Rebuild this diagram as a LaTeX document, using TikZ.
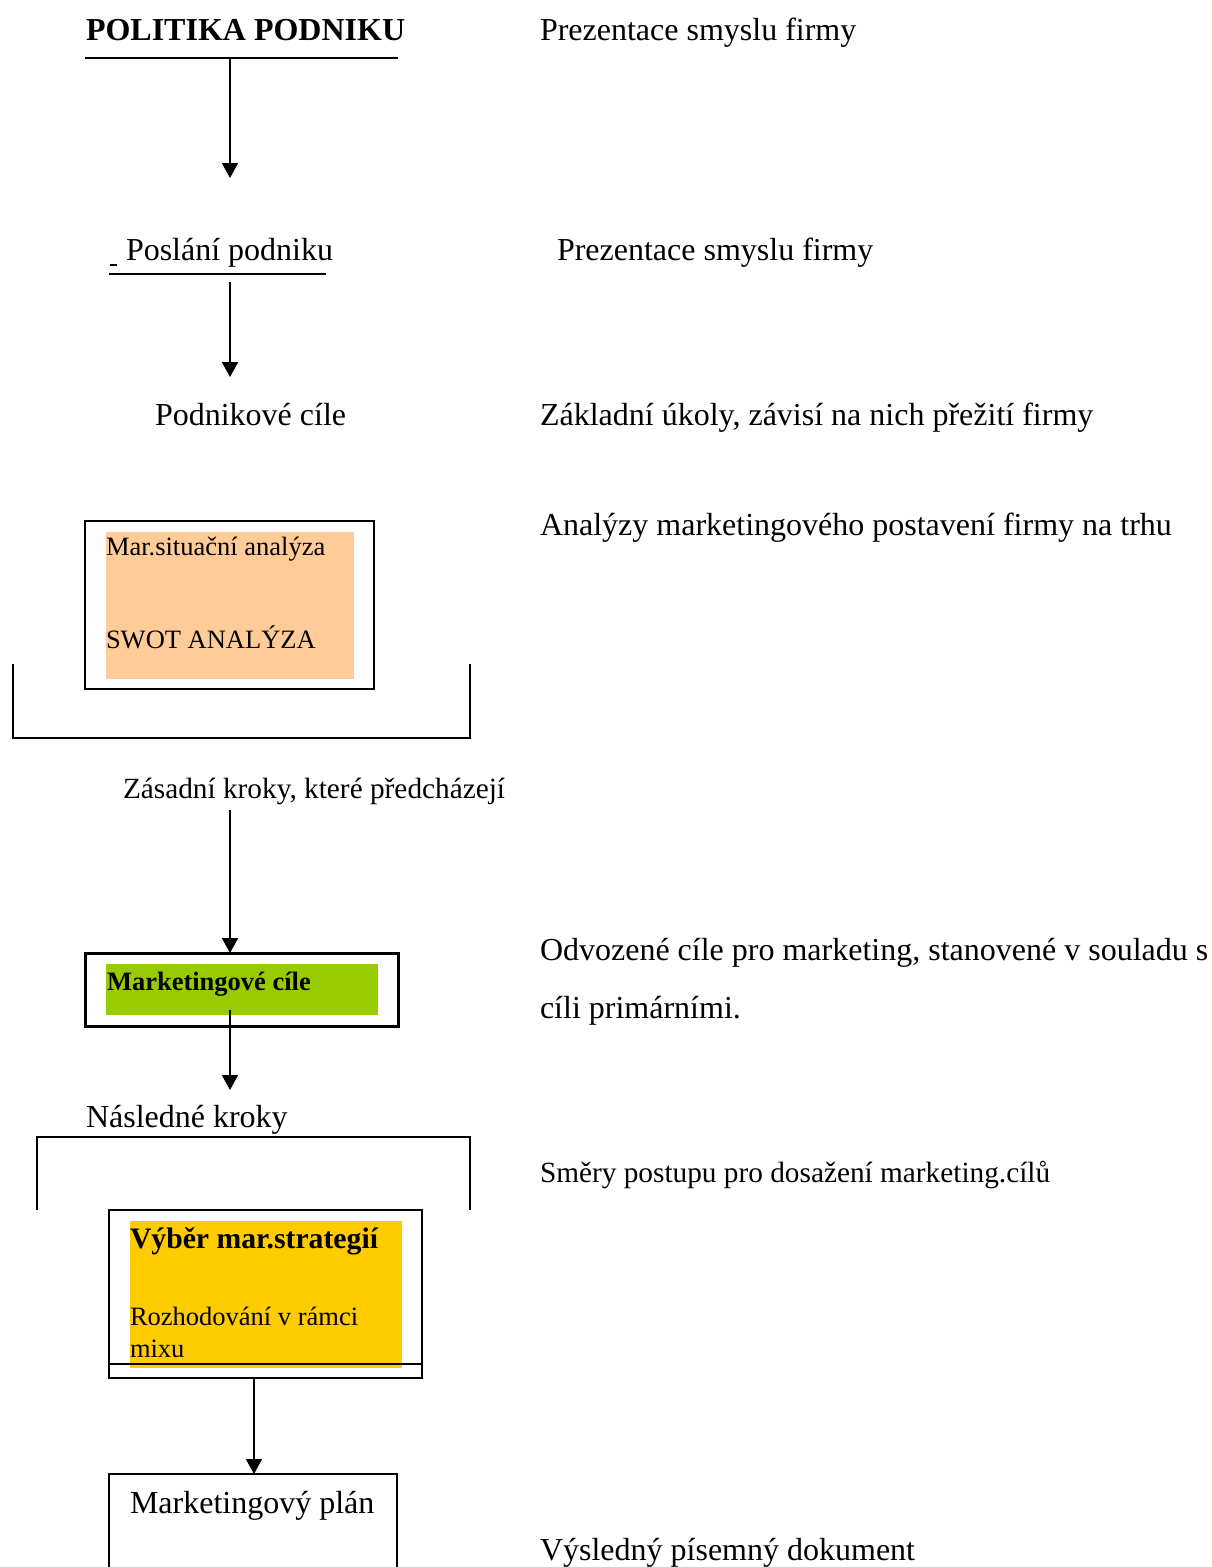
\documentclass[tikz,border=0pt]{standalone}
\usepackage{fontspec}
\setmainfont{Liberation Serif}
\usetikzlibrary{arrows.meta}
\definecolor{sitfill}{HTML}{FFCC99}
\definecolor{goalfill}{HTML}{99CC00}
\definecolor{stratfill}{HTML}{FFCC00}
\tikzset{
  txt/.style={anchor=base west, inner sep=0pt, outer sep=0pt, font=\fontsize{32}{38}\selectfont},
  midtxt/.style={anchor=base west, inner sep=0pt, outer sep=0pt, font=\fontsize{29.3}{35}\selectfont},
  smalltxt/.style={anchor=base west, inner sep=0pt, outer sep=0pt, font=\fontsize{26.5}{31}\selectfont},
  boxline/.style={draw=black, line width=2pt},
  panel/.style={anchor=north west, inner sep=0pt, outer sep=0pt, minimum width=#1},
  arr/.style={line width=1.8pt, -{Triangle[length=15pt,width=16pt]}},
  rule/.style={line width=2pt},
}
\begin{document}
\begin{tikzpicture}[x=1pt,y=-1pt]
\useasboundingbox (0,0) rectangle (1212,1567);
\clip (0,0) rectangle (1212,1567);
\fill[white] (0,0) rectangle (1212,1567);

% --- company policy ---
\node[txt, font=\fontsize{32}{38}\selectfont\bfseries] (politika) at (86,40) {POLITIKA PODNIKU};
\coordinate (polL) at (85,58);
\coordinate (polR) at (398,58);
\draw[rule] (polL) -- (polR);
\node[txt] (r1) at (540,40) {Prezentace smyslu firmy};
\coordinate (a1s) at (230,58);
\coordinate (a1e) at (230,178);
\draw[arr] (a1s) -- (a1e);

% --- mission ---
\node[txt] (poslani) at (126,260) {Poslání podniku};
\coordinate (dashL) at (110,265);
\coordinate (dashR) at (117,265);
\draw[line width=1.5pt] (dashL) -- (dashR);
\coordinate (posL) at (109,274);
\coordinate (posR) at (326,274);
\draw[rule] (posL) -- (posR);
\node[txt] (r2) at (557,260) {Prezentace smyslu firmy};
\coordinate (a2s) at (230,282);
\coordinate (a2e) at (230,377);
\draw[arr] (a2s) -- (a2e);

% --- corporate goals ---
\node[txt] (podcile) at (155,425) {Podnikové cíle};
\node[txt] (r3) at (540,425) {Základní úkoly, závisí na nich přežití firmy};

% --- situation analysis ---
\node[panel=289pt, minimum height=168pt, boxline] (sitbox) at (85,521) {};
\node[panel=248pt, minimum height=147pt, fill=sitfill] (sitfillbox) at (106,532) {};
\node[smalltxt] (sit1) at (106,555) {Mar.situační analýza};
\node[smalltxt] (sit2) at (106,648) {SWOT ANALÝZA};
\node[txt] (r4) at (540,535) {Analýzy marketingového postavení firmy na trhu};
\coordinate (br1a) at (13,664);
\coordinate (br1b) at (470,664);
\draw[rule] (br1a) -- (br1a |- 0,738) -- (br1b |- 0,738) -- (br1b);

\node[midtxt] (zasadni) at (123,798) {Zásadní kroky, které předcházejí};

% --- marketing goals ---
\node[panel=313pt, minimum height=73pt, draw=black, line width=3pt] (mcbox) at (85,953) {};
\node[panel=272pt, minimum height=51pt, fill=goalfill] (mcfill) at (106,964) {};
\node[smalltxt, font=\fontsize{26.5}{31}\selectfont\bfseries] (mctext) at (107,990) {Marketingové cíle};
\coordinate (a3s) at (230,810);
\draw[arr] (a3s) -- (a3s |- mcbox.north);
\node[txt] (r5a) at (540,960) {Odvozené cíle pro marketing, stanovené v souladu s};
\node[txt] (r5b) at (540,1018) {cíli primárními.};
\coordinate (a4s) at (230,1010);
\coordinate (a4e) at (230,1090);
\draw[arr] (a4s) -- (a4e);

% --- follow-up steps ---
\node[txt] (nasledne) at (86,1127) {Následné kroky};
\coordinate (br2a) at (37,1210);
\coordinate (br2b) at (470,1210);
\draw[rule] (br2a) -- (br2a |- 0,1137) -- (br2b |- 0,1137) -- (br2b);
\node[midtxt] (r6) at (540,1182) {Směry postupu pro dosažení marketing.cílů};

% --- strategy selection ---
\node[panel=313pt, minimum height=168pt, boxline] (stbox) at (109,1210) {};
\node[panel=272pt, minimum height=147pt, fill=stratfill] (stfill) at (130,1221) {};
\node[txt, font=\fontsize{29.7}{35}\selectfont\bfseries] (st1) at (130,1248) {Výběr mar.strategií};
\node[smalltxt] (st2) at (130,1325) {Rozhodování v rámci};
\node[smalltxt] (st3) at (130,1357) {mixu};
\draw[rule] (stbox.west |- 0,1364) -- (stbox.east |- 0,1364);

% --- marketing plan ---
\node[panel=288pt, minimum height=140pt, boxline] (planbox) at (109,1474) {};
\node[txt] (plan) at (130,1513) {Marketingový plán};
\coordinate (a5s) at (254,1378);
\draw[arr] (a5s) -- (a5s |- planbox.north);
\node[txt] (r7) at (540,1560) {Výsledný písemný dokument};
\end{tikzpicture}
\end{document}
